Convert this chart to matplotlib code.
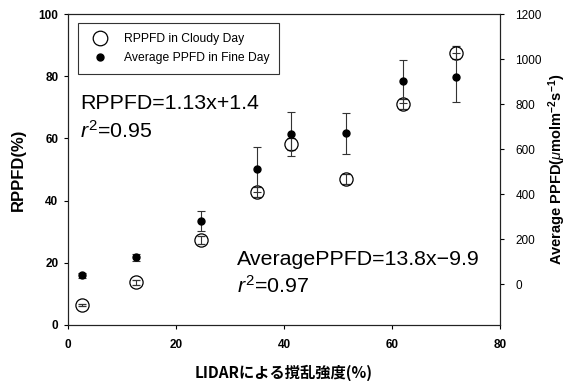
import numpy as np
import matplotlib
matplotlib.use("Agg")
import matplotlib.pyplot as plt

plt.rcParams['font.family'] = ['Liberation Sans', 'Noto Sans CJK JP', 'DejaVu Sans']
plt.rcParams['mathtext.fontset'] = 'custom'
plt.rcParams['mathtext.rm'] = 'Liberation Sans'
plt.rcParams['mathtext.it'] = 'Liberation Sans:italic'
plt.rcParams['mathtext.bf'] = 'Liberation Sans:bold'

# disturbance intensity by LIDAR (%)
lidar = [2.5, 12.6, 24.7, 35.0, 41.3, 51.5, 62.1, 71.8]
# RPPFD in cloudy day (%) and its error
rppfd = [6.3, 13.7, 27.4, 42.8, 58.2, 47.0, 71.0, 87.6]
rppfd_err = [0.3, 0.7, 1.2, 1.5, 1.8, 1.6, 1.6, 2.1]
# average PPFD in fine day (umol m-2 s-1) and its error
ppfd = [40, 120, 281, 511, 667, 670, 902, 920]
ppfd_err = [10, 15, 45, 99, 97, 90, 96, 108]

fig = plt.figure(figsize=(5.67, 3.81), dpi=100)
ax = fig.add_axes([0.12, 0.147, 0.762, 0.816])
ax2 = ax.twinx()

ecol = '#333333'
h1 = ax.errorbar(lidar, rppfd, yerr=rppfd_err, fmt='o', ms=9.5, mfc='none', mec='black',
                 mew=0.9, ecolor=ecol, elinewidth=0.8, capsize=3, capthick=0.8, zorder=3)
h2 = ax2.errorbar(lidar, ppfd, yerr=ppfd_err, fmt='o', ms=5, mfc='black', mec='black',
                  ecolor=ecol, elinewidth=0.8, capsize=3, capthick=0.8, zorder=3)

ax.set_xlim(0, 80)
ax.set_ylim(0, 100)
ax2.set_ylim(-180, 1200)
ax.set_xticks([0, 20, 40, 60, 80])
ax.set_yticks([0, 20, 40, 60, 80, 100])
ax2.set_yticks([0, 200, 400, 600, 800, 1000, 1200])

ax.tick_params(direction='out', length=3, width=0.8, labelsize=8.5, pad=4)
for lab in ax.get_xticklabels() + ax.get_yticklabels():
    lab.set_fontweight('bold')
ax.tick_params(axis='x', pad=7)
ax2.tick_params(direction='out', length=3, width=0.8, labelsize=8.5, pad=8)

for a in (ax, ax2):
    for s in a.spines.values():
        s.set_linewidth(0.8)
        s.set_color('#222222')

ax.set_ylabel('RPPFD(%)', fontsize=12, fontweight='bold', labelpad=9)
ax.set_xlabel('LIDARによる撹乱強度(%)', fontsize=11, fontweight='bold', labelpad=10,
              family=['Noto Sans CJK JP'])
ax2.set_ylabel(r'Average PPFD($\mu$molm$^{\mathbf{-2}}$s$^{\mathbf{-1}}$)', fontsize=10.5,
               fontweight='bold', labelpad=3)

leg = ax.legend([h1[0], h2[0]], ['RPPFD in Cloudy Day', 'Average PPFD in Fine Day'],
                loc='upper left', bbox_to_anchor=(0.023, 0.97), borderaxespad=0,
                fontsize=8.7, fancybox=False, edgecolor='#333333', framealpha=1,
                borderpad=0.8, handletextpad=1.0, labelspacing=0.6)
leg.get_frame().set_linewidth(0.8)
leg.legend_handles[0].set_markersize(10.5)

ax.text(2.2, 71.2, 'RPPFD=1.13x+1.4', fontsize=15.4, va='center', ha='left')
ax.text(2.2, 62.5, r'$r^2$=0.95', fontsize=15.4, va='center', ha='left')
ax.text(31.2, 21, 'AveragePPFD=13.8x\u22129.9', fontsize=15.4, va='center', ha='left')
ax.text(31.2, 12.7, r'$r^2$=0.97', fontsize=15.4, va='center', ha='left')

fig.savefig('out.png', dpi=100)
